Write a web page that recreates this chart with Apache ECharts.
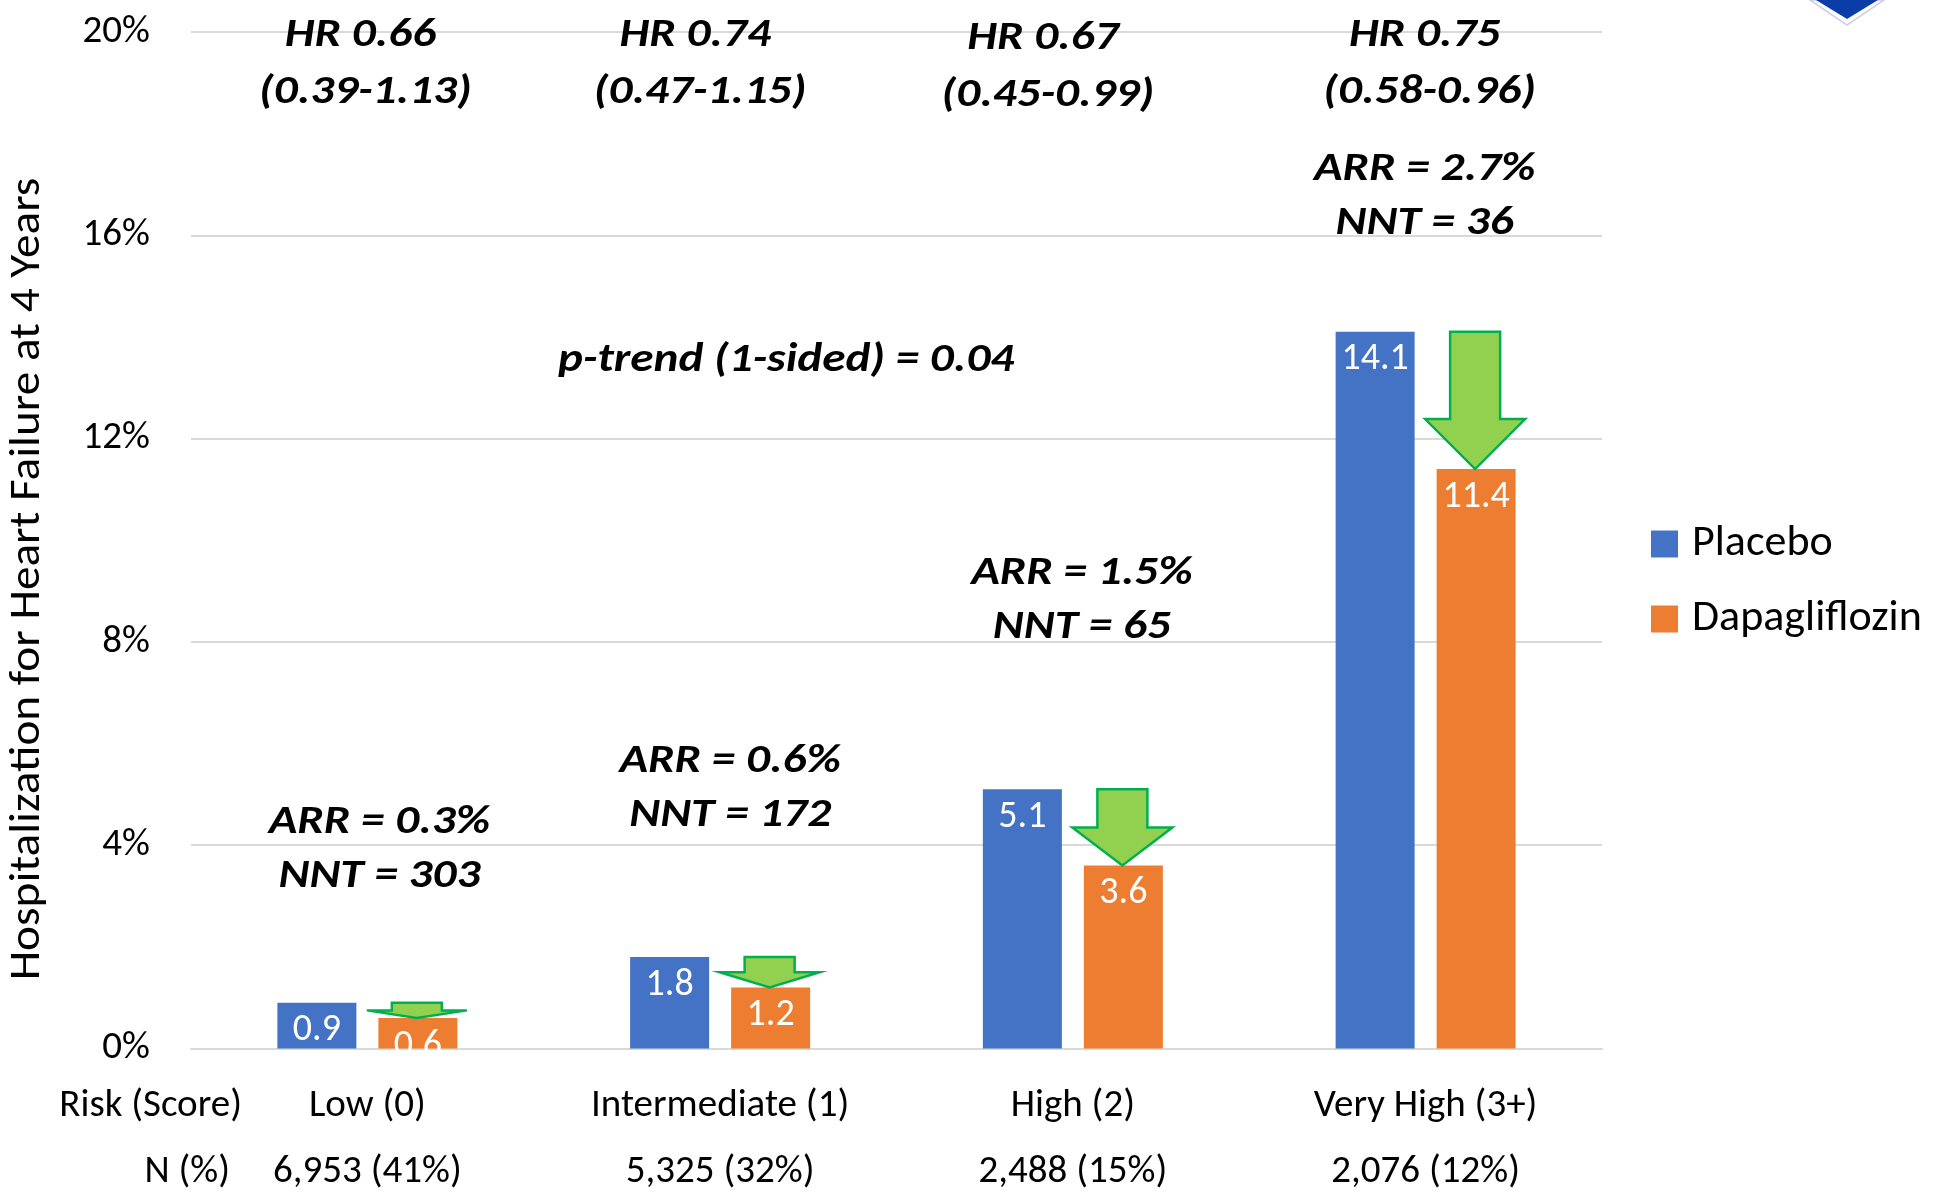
<!DOCTYPE html>
<html>
<head>
<meta charset="utf-8">
<title>Hospitalization for Heart Failure by Risk Score</title>
<script src="https://cdn.jsdelivr.net/npm/echarts@6/dist/echarts.min.js"></script>
<style>
  html, body { margin: 0; padding: 0; background: #ffffff; }
  #chart { width: 1946px; height: 1192px; }
</style>
</head>
<body>
<div id="chart"></div>
<script>
// ---- data ----
const categories = ['Low (0)', 'Intermediate (1)', 'High (2)', 'Very High (3+)'];
const groupN = ['6,953 (41%)', '5,325 (32%)', '2,488 (15%)', '2,076 (12%)'];
const placebo = [0.9, 1.8, 5.1, 14.1];
const dapagliflozin = [0.6, 1.2, 3.6, 11.4];
const yTicks = [0, 4, 8, 12, 16, 20];
const hrText = ['HR 0.66', 'HR 0.74', 'HR 0.67', 'HR 0.75'];
const hrCiText = ['(0.39-1.13)', '(0.47-1.15)', '(0.45-0.99)', '(0.58-0.96)'];
const arrText = ['ARR = 0.3%', 'ARR = 0.6%', 'ARR = 1.5%', 'ARR = 2.7%'];
const nntText = ['NNT = 303', 'NNT = 172', 'NNT = 65', 'NNT = 36'];
const pTrendText = 'p-trend (1-sided) = 0.04';

// ---- look ----
const FONT = 'Carlito, Lato, "Noto Sans", sans-serif';
const BLUE = '#4472C4';
const ORANGE = '#ED7D31';
const ARROW_FILL = '#92D050';
const ARROW_STROKE = '#00B050';
const GRID_COLOR = '#D9D9D9';
const BAR_W = 79;
const BAR_GAP = 22;
const ANNO_SIZE = 40;
const ANNO_STRETCH = 1.18;
const AXIS_SIZE = 39;

// where each annotation block sits: [category, value-axis anchor, x shift px]
const hrLayout = [[0, 20, -7], [1, 20, -25], [2, 19.95, -30], [3, 20, -1]];
const hrLineGap = 57;
const arrLayout = [[0, 4.52, 12], [1, 5.72, 10], [2, 9.42, 9], [3, 17.37, -1]];
const nntLineGap = 54;
const pTrendLayout = [1, 13.6, 66];
const textNudge = 4;

// annotation items built from the text arrays and their layout
const annotations = [];
hrText.forEach((t, i) => {
  const [c, v, dx] = hrLayout[i];
  annotations.push({ value: [c, v, dx, textNudge], text: t });
  annotations.push({ value: [c, v, dx + 5, hrLineGap + textNudge], text: hrCiText[i] });
});
arrText.forEach((t, i) => {
  const [c, v, dx] = arrLayout[i];
  annotations.push({ value: [c, v, dx, textNudge], text: t });
  annotations.push({ value: [c, v, dx, nntLineGap + textNudge], text: nntText[i] });
});
annotations.push({ value: [pTrendLayout[0], pTrendLayout[1], pTrendLayout[2], textNudge], text: pTrendText });

const arrows = categories.map((c, i) => [i, placebo[i], dapagliflozin[i]]);

const chart = echarts.init(document.getElementById('chart'), null, { renderer: 'canvas' });

const barLabel = {
  show: true, position: 'insideTop', distance: 9,
  fontFamily: FONT, fontSize: 38, color: '#fff',
  formatter: (p) => p.value.toFixed(1)
};

const option = {
  backgroundColor: '#ffffff',
  animation: false,
  textStyle: { fontFamily: FONT },
  grid: { left: 191, right: 344, top: 32, bottom: 143, containLabel: false },
  legend: {
    data: ['Placebo', 'Dapagliflozin'],
    orient: 'vertical',
    left: 1651,
    top: 522,
    padding: 0,
    icon: 'rect',
    itemWidth: 27,
    itemHeight: 27,
    itemGap: 31,
    textStyle: { fontFamily: FONT, fontSize: 44, color: '#000', lineHeight: 44, padding: [0, 0, 0, 9] }
  },
  xAxis: {
    type: 'category',
    data: categories,
    axisLine: { show: true, lineStyle: { color: GRID_COLOR, width: 2 } },
    axisTick: { show: false },
    axisLabel: {
      interval: 0,
      margin: 25,
      formatter: (val, idx) => '{a|' + val + '}\n{b|' + groupN[idx] + '}',
      rich: {
        a: { fontFamily: FONT, fontSize: AXIS_SIZE, color: '#000', lineHeight: 66 },
        b: { fontFamily: FONT, fontSize: AXIS_SIZE, color: '#000', lineHeight: 66 }
      }
    }
  },
  yAxis: {
    type: 'value',
    min: yTicks[0],
    max: yTicks[yTicks.length - 1],
    interval: yTicks[1] - yTicks[0],
    axisLine: { show: false },
    axisTick: { show: false },
    splitLine: { lineStyle: { color: GRID_COLOR, width: 2 } },
    axisLabel: { formatter: '{value}%', fontFamily: FONT, fontSize: AXIS_SIZE, color: '#000', margin: 41 }
  },
  graphic: [
    {
      type: 'text', x: 28, y: 579, rotation: Math.PI / 2, scaleX: 1.1,
      style: { text: 'Hospitalization for Heart Failure at 4 Years', fontFamily: FONT, fontSize: 43, fill: '#000', align: 'center', verticalAlign: 'middle' }
    },
    {
      type: 'text', x: 242, y: 1106,
      style: { text: 'Risk (Score)', fontFamily: FONT, fontSize: AXIS_SIZE, fill: '#000', align: 'right', verticalAlign: 'middle' }
    },
    {
      type: 'text', x: 230, y: 1172,
      style: { text: 'N (%)', fontFamily: FONT, fontSize: AXIS_SIZE, fill: '#000', align: 'right', verticalAlign: 'middle' }
    },
    // corner emblem
    {
      type: 'polygon',
      shape: { points: [[1810, 0], [1884, 0], [1847, 25]] },
      style: { fill: '#ffffff', stroke: '#C9CCEE', lineWidth: 1.5 }
    },
    {
      type: 'polygon',
      shape: { points: [[1816, 0], [1878, 0], [1847, 19]] },
      style: { fill: '#0A3DA8' }
    }
  ],
  series: [
    {
      name: 'Placebo',
      type: 'bar',
      data: placebo,
      barWidth: BAR_W,
      barGap: (BAR_GAP / BAR_W * 100) + '%',
      itemStyle: { color: BLUE },
      label: barLabel,
      z: 2
    },
    {
      name: 'Dapagliflozin',
      type: 'bar',
      data: dapagliflozin,
      barWidth: BAR_W,
      itemStyle: { color: ORANGE },
      label: barLabel,
      z: 2
    },
    {
      // downward arrows from the placebo rate to the dapagliflozin rate
      name: 'reduction',
      type: 'custom',
      data: arrows,
      silent: true,
      z: 5,
      renderItem: (params, api) => {
        const top = api.coord([api.value(0), api.value(1)]);
        const tip = api.coord([api.value(0), api.value(2)]);
        const cx = top[0] + (BAR_W + BAR_GAP) / 2 - 1;
        const len = tip[1] - top[1];
        const headW = 100;
        const shaftW = 50;
        const headH = 0.5 * Math.min(headW, len);
        const neck = top[1] + len - headH;
        return {
          type: 'polygon',
          shape: {
            points: [
              [cx - shaftW / 2, top[1]], [cx + shaftW / 2, top[1]],
              [cx + shaftW / 2, neck], [cx + headW / 2, neck],
              [cx, tip[1]],
              [cx - headW / 2, neck], [cx - shaftW / 2, neck]
            ]
          },
          style: { fill: ARROW_FILL, stroke: ARROW_STROKE, lineWidth: 2.5, lineJoin: 'miter' }
        };
      }
    },
    {
      // bold italic text blocks (HR, ARR/NNT, trend test)
      name: 'notes',
      type: 'custom',
      data: annotations,
      silent: true,
      z: 6,
      renderItem: (params, api) => {
        const p = api.coord([api.value(0), api.value(1)]);
        return {
          type: 'text',
          x: p[0] + api.value(2),
          y: p[1] + api.value(3),
          scaleX: ANNO_STRETCH,
          style: {
            text: annotations[params.dataIndex].text,
            fontFamily: FONT, fontSize: ANNO_SIZE, fontWeight: 'bold', fontStyle: 'italic',
            fill: '#000', align: 'center', verticalAlign: 'middle'
          }
        };
      }
    }
  ]
};

chart.setOption(option);
</script>
</body>
</html>
